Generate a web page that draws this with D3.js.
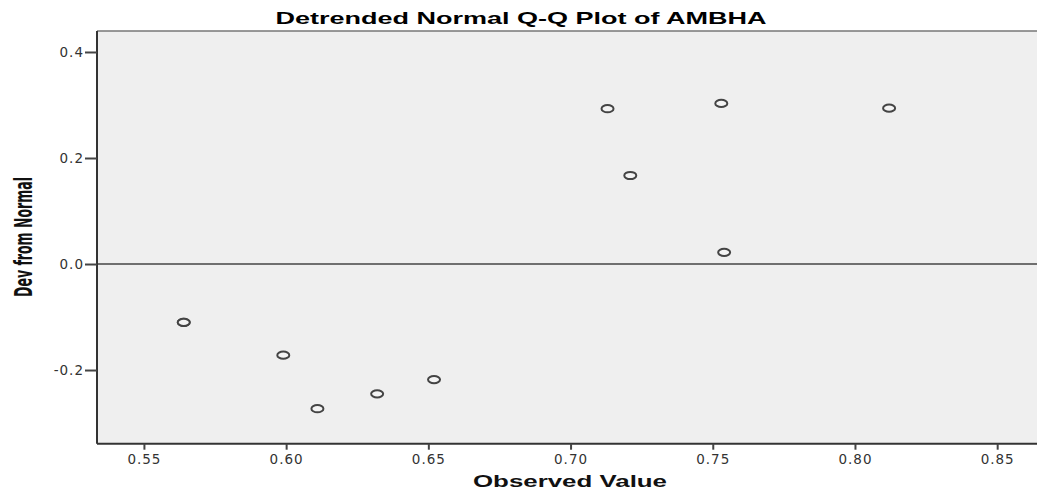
<!DOCTYPE html>
<html lang="en">
<head>
<meta charset="UTF-8">
<title>Detrended Normal Q-Q Plot of AMBHA</title>
<style>
  body { margin: 0; background: #fff; }
  .tick text { font: 13.5px "DejaVu Sans", sans-serif; fill: #333; letter-spacing: 1px; }
  .title { font: bold 17px "Liberation Sans", Arial, sans-serif; fill: #000; }
  .xlabel { font: bold 17px "Liberation Sans", Arial, sans-serif; fill: #111; }
  .ylabel { font: bold 24px "Liberation Sans Narrow", "DejaVu Sans Condensed", sans-serif; fill: #111; }
</style>
</head>
<body>
<div id="chart"></div>
<script src="https://d3js.org/d3.v7.min.js"></script>
<script>
// observed values and their deviation from normal
const observed = [0.564, 0.564, 0.599, 0.611, 0.632, 0.652, 0.713, 0.721, 0.753, 0.754, 0.812];
const devFromNormal = [-0.110, -0.110, -0.172, -0.273, -0.245, -0.218, 0.293, 0.167, 0.303, 0.022, 0.294];
const xTicks = [0.55, 0.60, 0.65, 0.70, 0.75, 0.80, 0.85];
const yTicks = [-0.2, 0.0, 0.2, 0.4];

const width = 1037, height = 491;
const plotLeft = 97, plotRight = 1037, plotTop = 31, plotBottom = 443.7;

const x = d3.scaleLinear().domain([0.5335, 0.864]).range([plotLeft, plotRight]);
const y = d3.scaleLinear().domain([-0.339, 0.4396]).range([plotBottom, plotTop]);

const svg = d3.select("#chart").append("svg")
    .attr("width", width)
    .attr("height", height);

// plot background
svg.append("rect")
    .attr("x", plotLeft).attr("y", plotTop)
    .attr("width", plotRight - plotLeft).attr("height", plotBottom - plotTop)
    .attr("fill", "#efefef");

// top frame line
svg.append("line")
    .attr("x1", plotLeft).attr("x2", plotRight)
    .attr("y1", plotTop).attr("y2", plotTop)
    .attr("stroke", "#777").attr("stroke-width", 1.5);

// reference line at zero
svg.append("line")
    .attr("x1", plotLeft).attr("x2", plotRight)
    .attr("y1", y(0)).attr("y2", y(0))
    .attr("stroke", "#444").attr("stroke-width", 1.5);

// axes (hyphen minus like the original)
const fmt = f => d => d3.format(f)(d).replace("\u2212", "-");
const xAxis = svg.append("g")
    .attr("transform", `translate(0,${plotBottom})`)
    .call(d3.axisBottom(x).tickValues(xTicks).tickFormat(fmt(".2f")).tickSize(6).tickPadding(5));
const yAxis = svg.append("g")
    .attr("transform", `translate(${plotLeft},0)`)
    .call(d3.axisLeft(y).tickValues(yTicks).tickFormat(fmt(".1f")).tickSize(12).tickPadding(1));

[xAxis, yAxis].forEach(g => {
    g.select(".domain").attr("stroke", "#333").attr("stroke-width", 2);
    g.selectAll(".tick line").attr("stroke", "#444").attr("stroke-width", 2);
});
xAxis.select(".domain").attr("d", `M${plotLeft},0H${plotRight}`);
yAxis.select(".domain").attr("d", `M0,${plotTop}V${plotBottom}`);

// points
svg.append("g").selectAll("ellipse")
    .data(observed.map((v, i) => [v, devFromNormal[i]]))
    .enter()
    .append("ellipse")
    .attr("cx", d => x(d[0]))
    .attr("cy", d => y(d[1]))
    .attr("rx", 6)
    .attr("ry", 3.6)
    .attr("fill", "#f4f4f4")
    .attr("stroke", "#444")
    .attr("stroke-width", 2);

// titles
svg.append("text")
    .attr("class", "title")
    .attr("x", 521).attr("y", 24)
    .attr("text-anchor", "middle")
    .attr("textLength", 491)
    .attr("lengthAdjust", "spacingAndGlyphs")
    .text("Detrended Normal Q-Q Plot of AMBHA");

svg.append("text")
    .attr("class", "xlabel")
    .attr("x", 570).attr("y", 487)
    .attr("text-anchor", "middle")
    .attr("textLength", 194)
    .attr("lengthAdjust", "spacingAndGlyphs")
    .text("Observed Value");

svg.append("text")
    .attr("class", "ylabel")
    .attr("transform", "translate(32,237) rotate(-90)")
    .attr("text-anchor", "middle")
    .attr("textLength", 120)
    .attr("lengthAdjust", "spacingAndGlyphs")
    .text("Dev from Normal");
</script>
</body>
</html>
